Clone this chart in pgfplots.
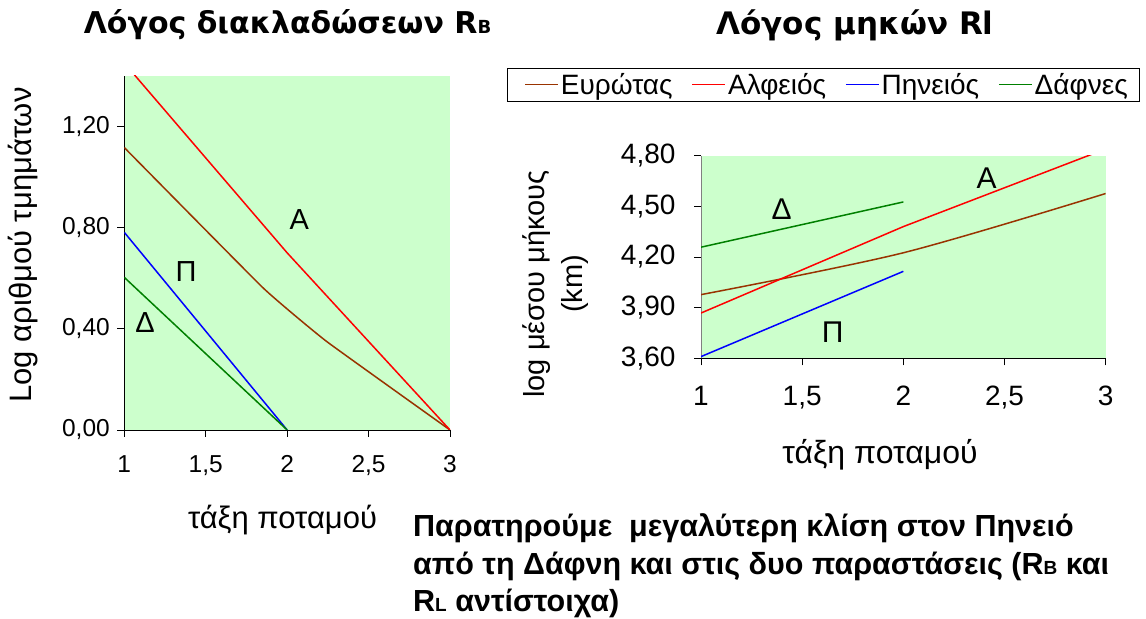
\documentclass[border=0pt]{standalone}
\usepackage{fontspec}
\setmainfont{Liberation Sans}
\newfontfamily\titlefont{DejaVu Sans}
\usepackage{pgfplots}
\pgfplotsset{compat=1.18}
\definecolor{bg}{RGB}{204,255,204}
\definecolor{brn}{RGB}{153,51,0}
\definecolor{grn}{RGB}{0,128,0}
\begin{document}
\begin{tikzpicture}[x=1bp,y=1bp]
\useasboundingbox (0,0) rectangle (1146,619);
\pgfplotsset{myax/.style={scale only axis,
  axis background/.style={fill=bg},
  axis x line*=bottom, axis y line*=left,
  axis line style={-, black, line width=0.8bp},
  tick align=outside, major tick length=7bp,
  tick style={black, line width=0.8bp},
  xmin=1, xmax=3, xtick={1,1.5,2,2.5,3},
  xticklabels={1,{1,5},2,{2,5},3},
  every axis plot/.append style={line width=1.5bp},
  clip=true}}
% left
\begin{axis}[myax, at={(124.3bp,189bp)}, anchor=south west,
  width=325.7bp, height=354.3bp,
  tick label style={font=\fontsize{24.5bp}{28bp}\selectfont},
  yticklabel style={xshift=-4bp},
  xticklabel style={yshift=-15bp},
  ymin=0, ymax=1.4, ytick={0,0.4,0.8,1.2},
  yticklabels={{0,00},{0,40},{0,80},{1,20}}]
\addplot[brn, smooth, tension=0.2] coordinates {(1,1.116) (1.853,0.561) (2.242,0.350) (3,0)};
\addplot[red] coordinates {(1,1.45) (2,0.70) (3,0)};
\addplot[blue] coordinates {(1,0.781) (2,0)};
\addplot[grn] coordinates {(1,0.603) (2,0)};
\node[font=\fontsize{29bp}{30bp}\selectfont] at (axis cs:2.074,0.832) {Α};
\node[font=\fontsize{29bp}{30bp}\selectfont] at (axis cs:1.379,0.625) {Π};
\node[font=\fontsize{29bp}{30bp}\selectfont] at (axis cs:1.127,0.423) {Δ};
\end{axis}
% right
\begin{axis}[myax, at={(701bp,260.7bp)}, anchor=south west,
  width=404.7bp, height=202.6bp,
  tick label style={font=\fontsize{28bp}{32bp}\selectfont},
  yticklabel style={xshift=-15bp},
  xticklabel style={yshift=-17bp},
  y axis line style={gray},
  ymin=3.6, ymax=4.8, ytick={3.6,3.9,4.2,4.5,4.8},
  yticklabels={{3,60},{3,90},{4,20},{4,50},{4,80}},
  legend columns=4,
  legend style={at={(-0.4794,1.4329)}, anchor=north west, line width=0.8bp,
    font=\fontsize{28bp}{32bp}\selectfont, inner xsep=10bp, inner ysep=3bp},
  legend image code/.code={\path (-7bp,0bp); \draw[#1, line width=1.5bp] (0bp,0bp) -- (33bp,0bp);},
  /tikz/every even column/.append style={column sep=10bp}]
\addplot[brn, smooth] coordinates {(1,3.977) (2,4.225) (3,4.576)};
\addlegendentry{Ευρώτας}
\addplot[red] coordinates {(1,3.868) (2,4.38) (3,4.84)};
\addlegendentry{Αλφειός}
\addplot[blue] coordinates {(1,3.61) (2,4.115)};
\addlegendentry{Πηνειός}
\addplot[grn] coordinates {(1,4.258) (2,4.526)};
\addlegendentry{Δάφνες}
\node[font=\fontsize{30bp}{30bp}\selectfont] at (axis cs:1.399,4.483) {Δ};
\node[font=\fontsize{30bp}{30bp}\selectfont] at (axis cs:2.412,4.666) {Α};
\node[font=\fontsize{30bp}{30bp}\selectfont] at (axis cs:1.651,3.752) {Π};
\end{axis}
% titles
\node[font=\titlefont\bfseries\fontsize{30bp}{34bp}\selectfont] at (287.5,594) {Λόγος διακλαδώσεων R{\fontsize{18bp}{20bp}\selectfont B}};
\node[font=\titlefont\bfseries\fontsize{31bp}{34bp}\selectfont] at (855,594) {Λόγος μηκών Rl};
% axis labels
\node[font=\fontsize{31bp}{34bp}\selectfont, rotate=90] at (23,374) {Log αριθμού τμημάτων};
\node[font=\fontsize{31bp}{34bp}\selectfont] at (282.5,99) {τάξη ποταμού};
\node[font=\fontsize{32bp}{34bp}\selectfont] at (880,164) {τάξη ποταμού};
\node[font=\fontsize{29bp}{38bp}\selectfont, rotate=90, align=center] at (556,335) {log μέσου μήκους\\(km)};
% note
\begin{scope}[every node/.style={font=\bfseries\fontsize{30.5bp}{36bp}\selectfont, anchor=base west, inner sep=0pt}]
\node at (413,82.5) {Παρατηρούμε \ μεγαλύτερη κλίση στον Πηνειό};
\node at (413,44.5) {από τη Δάφνη και στις δυο παραστάσεις (R{\fontsize{19bp}{20bp}\selectfont B} και};
\node at (413,7.5) {R{\fontsize{19bp}{20bp}\selectfont L} αντίστοιχα)};
\end{scope}
\end{tikzpicture}
\end{document}
